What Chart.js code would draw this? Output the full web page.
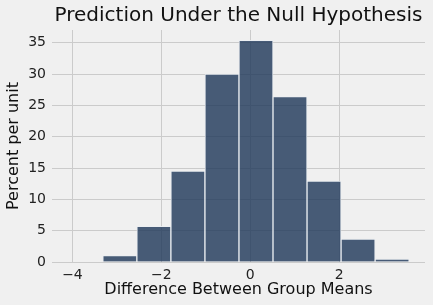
<!DOCTYPE html>
<html>
<head>
<meta charset="utf-8">
<script src="https://cdn.jsdelivr.net/npm/chart.js@4/dist/chart.umd.min.js"></script>
<style>
  body { margin: 0; background: #f0f0f0; }
  #wrap { width: 433px; height: 305px; }
</style>
</head>
<body>
<div id="wrap"><canvas id="histChart" width="433" height="305"></canvas></div>
<script>
// bin edges and heights (percent per unit)
const binEdges = [-3.317, -2.551, -1.786, -1.020, -0.254, 0.511, 1.277, 2.042, 2.808, 3.573];
const percents = [1.04, 5.7, 14.5, 30.0, 35.4, 26.4, 12.9, 3.65, 0.45];
const xTicks = [-4, -2, 0, 2];
const yTicks = [0, 5, 10, 15, 20, 25, 30, 35];

const points = percents.map((p, i) => ({ x: (binEdges[i] + binEdges[i + 1]) / 2, y: p }));

const tickFont = { family: 'DejaVu Sans', size: 14 };
const gridColor = '#cbcbcb';

new Chart(document.getElementById('histChart').getContext('2d'), {
  type: 'bar',
  data: {
    datasets: [{
      data: points,
      backgroundColor: 'rgba(29,54,88,0.8)',
      borderColor: 'rgba(235,238,242,0.9)',
      borderWidth: 1,
      barPercentage: 1,
      categoryPercentage: 1
    }]
  },
  options: {
    responsive: false,
    animation: false,
    layout: { padding: { right: 8 } },
    plugins: {
      legend: { display: false },
      tooltip: { enabled: false },
      title: {
        display: true,
        fullSize: false,
        text: 'Prediction Under the Null Hypothesis',
        color: '#111',
        font: { family: 'DejaVu Sans', size: 20, weight: 'normal' },
        padding: { top: 4, bottom: 2 }
      }
    },
    scales: {
      x: {
        type: 'linear',
        offset: false,
        min: -4.46,
        max: 3.93,
        grid: { color: gridColor, lineWidth: 1, drawTicks: false, offset: false },
        border: { display: false },
        afterBuildTicks: s => { s.ticks = xTicks.map(v => ({ value: v })); },
        afterFit: s => { s.height = 43; },
        ticks: {
          padding: 5,
          color: '#222',
          font: tickFont,
          callback: v => (v < 0 ? '\u2212' + Math.abs(v) : String(v))
        },
        title: {
          display: true,
          text: 'Difference Between Group Means',
          color: '#111',
          font: { family: 'DejaVu Sans', size: 16 },
          padding: { top: 0, bottom: 6 }
        }
      },
      y: {
        min: 0,
        max: 37.04,
        grid: { color: gridColor, lineWidth: 1, drawTicks: false },
        border: { display: false },
        afterBuildTicks: s => { s.ticks = yTicks.map(v => ({ value: v })); },
        afterFit: s => { s.width = 52; },
        ticks: { padding: 6, color: '#222', font: tickFont },
        title: {
          display: true,
          text: 'Percent per unit',
          color: '#111',
          font: { family: 'DejaVu Sans', size: 16 },
          padding: { top: 4, bottom: 0 }
        }
      }
    }
  }
});
</script>
</body>
</html>
